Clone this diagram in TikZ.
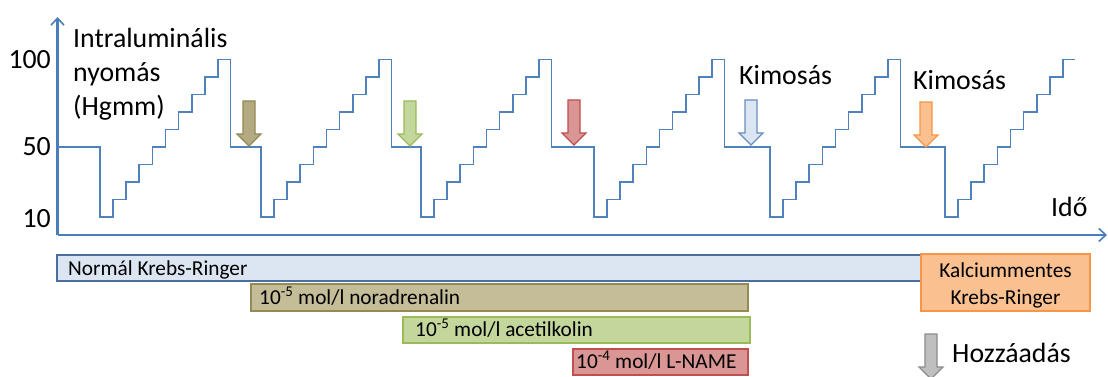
\documentclass[tikz,border=0pt]{standalone}
\usepackage{fontspec}
\setmainfont{Carlito}
\usetikzlibrary{arrows.meta}

\definecolor{axisblue}{HTML}{4A7EBB}
\definecolor{waveblue}{HTML}{4F81BD}
\definecolor{krfill}{HTML}{DCE6F2}
\definecolor{krdraw}{HTML}{4A6E9E}
\definecolor{nafill}{HTML}{C4BD97}
\definecolor{naarrow}{HTML}{B4AA82}
\definecolor{nadraw}{HTML}{948A54}
\definecolor{achfill}{HTML}{C3D69B}
\definecolor{achdraw}{HTML}{9BBB59}
\definecolor{lnfill}{HTML}{D99694}
\definecolor{lndraw}{HTML}{C0504D}
\definecolor{cafill}{HTML}{FAC090}
\definecolor{cadraw}{HTML}{F79646}
\definecolor{washdraw}{HTML}{6A8DC0}
\definecolor{addfill}{HTML}{BFBFBF}
\definecolor{adddraw}{HTML}{8C8C8C}

% down-pointing block arrow: centre x, top y, fill, border
\newcommand\dnarrow[4]{%
  \draw[blockarrow, fill=#3, draw=#4]
    (#1-6,#2) -- (#1+6,#2) -- (#1+6,#2+33) -- (#1+12,#2+33)
    -- (#1,#2+45) -- (#1-12,#2+33) -- (#1-6,#2+33) -- cycle;}

\begin{document}
\begin{tikzpicture}[x=1pt,y=-1pt,
  axis/.style={draw=axisblue, line width=2.2pt,
    -{Straight Barb[length=7pt,width=13pt,line width=1.6pt]}},
  wave/.style={draw=waveblue, line width=1.7pt},
  big/.style={font=\fontsize{27.8}{32}\selectfont, inner sep=0pt},
  small/.style={font=\fontsize{21.3}{26}\selectfont, inner sep=0pt},
  bar/.style={line width=1.3pt},
  blockarrow/.style={line width=1.2pt, line join=miter}]

\useasboundingbox (0,0) rectangle (1108,377);
\clip (0,0) rectangle (1108,377);
\fill[white] (0,0) rectangle (1108,377);

% axes
\coordinate (origin) at (57.5,235);
\coordinate (ytop) at (57.5,17);
\coordinate (xend) at (1107,235);
\draw[axis] (origin) -- (ytop);
\draw[axis] (origin) -- (xend);

% tick labels
\node[big, anchor=base east] (t100) at (51,68.5) {100};
\node[big, anchor=base east] (t50) at (51,155) {50};
\node[big, anchor=base east] (t10) at (51,227) {10};

% axis labels
\node[big, anchor=base west] (yl1) at (73,48) {Intraluminális};
\node[big, anchor=base west] (yl2) at (73,82) {nyomás};
\node[big, anchor=base west] (yl3) at (73,115.5) {(Hgmm)};
\node[big, anchor=base west] (xl) at (1051,216) {Idő};

% staircase pressure protocol
\draw[wave] (57.5,147)
  \foreach \xd in {100,261,421,594,770} {
    -- (\xd,147) -- ++(0,70)
    \foreach \i in {1,...,9} { -- ++(13.1,0) -- ++(0,-17.5) }
    -- ++(12.5,0) -- ++(0,87.5) }
  -- (945,147) -- ++(0,70)
  \foreach \i in {1,...,9} { -- ++(13.1,0) -- ++(0,-17.5) }
  -- ++(12.5,0);

% wash-out labels
\node[big, anchor=base west] (w1) at (739,85) {Kimosás};
\node[big, anchor=base west] (w2) at (913,90) {Kimosás};

% addition arrows
\dnarrow{249}{101}{naarrow}{nadraw}
\dnarrow{410}{101}{achfill}{achdraw}
\dnarrow{574}{100}{lnfill}{lndraw}
\dnarrow{751}{100}{krfill}{washdraw}
\dnarrow{926}{102}{cafill}{cadraw}

% solution bars
\draw[bar, fill=krfill, draw=krdraw] (57,255) rectangle (921,281);
\node[small, anchor=base west] (kr) at (68,275) {Normál Krebs-Ringer};

\draw[bar, fill=nafill, draw=nadraw] (251,284) rectangle (748,311);
\node[small, anchor=base west] (na) at (259,304) {10\textsuperscript{-5} mol/l noradrenalin};

\draw[bar, fill=achfill, draw=achdraw] (403,317) rectangle (750,343);
\node[small, anchor=base west] (ach) at (415,336.5) {10\textsuperscript{-5} mol/l acetilkolin};

\draw[bar, fill=lnfill, draw=lndraw] (573,349) rectangle (748,375);
\node[small, anchor=base west] (ln) at (576,368.5) {10\textsuperscript{-4} mol/l L-NAME};

\draw[bar, fill=cafill, draw=cadraw] (921,254) rectangle (1090,311);
\node[small, anchor=base] (ca1) at (1005.5,277) {Kalciummentes};
\node[small, anchor=base] (ca2) at (1005.5,304) {Krebs-Ringer};

% legend
\dnarrow{931}{334}{addfill}{adddraw}
\node[big, anchor=base west] (add) at (952,362) {Hozzáadás};

\end{tikzpicture}
\end{document}
